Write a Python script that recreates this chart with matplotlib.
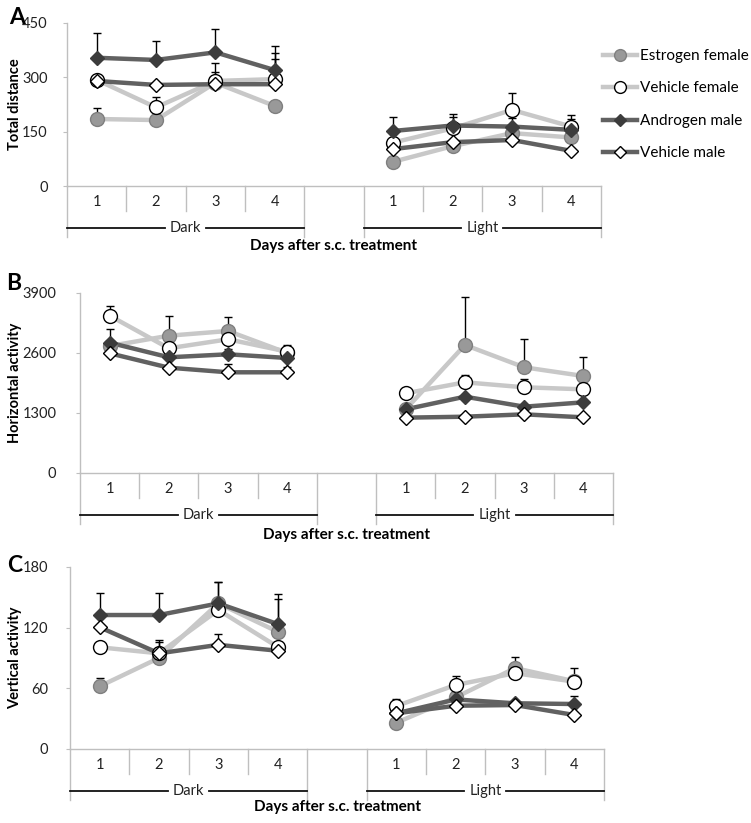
import numpy as np
import matplotlib
matplotlib.use("Agg")
import matplotlib.pyplot as plt
import matplotlib.transforms as mtransforms

nan = np.nan
plt.rcParams['font.family'] = ['Lato', 'DejaVu Sans']

# ---------------- data ----------------
day_labels = ["1", "2", "3", "4"]
groups = ["Dark", "Light"]
series_names = ["Estrogen female", "Vehicle female", "Androgen male", "Vehicle male"]

# order: Dark 1-4, Light 1-4
A_ef = [185, 182, 285, 221, 67, 110, 146, 134]
A_ef_top = [215, nan, 340, nan, nan, nan, nan, nan]
A_vf = [293, 217, 290, 295, 120, 159, 210, 164]
A_vf_top = [nan, 247, 316, 366, nan, 190, 256, 196]
A_am = [354, 348, 369, 320, 152, 167, 164, 155]
A_am_top = [423, 401, 433, 386, 190, 199, 187, 186]
A_vm = [290, 279, 281, 281, 102, 121, 127, 97]
A_vm_top = [nan, nan, nan, 351, nan, nan, nan, nan]

B_ef = [2750, 2975, 3077, 2600, 1380, 2774, 2290, 2102]
B_ef_top = [nan, 3402, 3373, nan, nan, 3807, 2897, 2520]
B_vf = [3409, 2702, 2897, 2629, 1727, 1965, 1857, 1813]
B_vf_top = [3619, nan, nan, 2774, nan, 2124, 2030, nan]
B_am = [2824, 2507, 2572, 2492, 1380, 1654, 1437, 1531]
B_am_top = [3113, nan, 2694, nan, nan, nan, nan, nan]
B_vm = [2594, 2282, 2182, 2182, 1199, 1220, 1271, 1206]
B_vm_top = [nan, nan, 2355, 2304, nan, nan, nan, nan]

C_ef = [62, 90, 144, 116, 26, 51, 80, 67]
C_ef_top = [70.5, nan, nan, 153, nan, nan, nan, nan]
C_vf = [100.6, 94.6, 137.5, 101, 42.5, 63.3, 75, 66.6]
C_vf_top = [nan, 107.8, 165, nan, 49.5, 72.5, 91.3, 80.4]
C_am = [132.5, 132.5, 144, 123.6, 35.3, 49, 45.2, 44.5]
C_am_top = [154.6, 154.6, 165, 148, nan, nan, nan, 52]
C_vm = [120.4, 94.6, 103, 97.2, 35.3, 42.8, 43.5, 33.6]
C_vm_top = [nan, 106, 113.7, nan, nan, nan, nan, nan]

# ---------------- styles ----------------
LIGHT = "#c8c8c8"
DARK = "#616161"
styles = [
    dict(color=LIGHT, marker='o', ms=10, mfc="#999999", mec="#7f7f7f", mew=1.0),
    dict(color=LIGHT, marker='o', ms=10, mfc="white", mec="black", mew=1.0),
    dict(color=DARK, marker='D', ms=7, mfc="#3c3c3c", mec="#3c3c3c", mew=1.0),
    dict(color=DARK, marker='D', ms=7.5, mfc="white", mec="black", mew=1.0),
]

W, H = 751, 823
fig = plt.figure(figsize=(W / 100, H / 100), dpi=100)

xpos = np.array([0, 1, 2, 3, 5, 6, 7, 8], dtype=float)
GRID = "#bfbfbf"


def panel(letter, letter_xy, xl, xr, y0, yt, ymax, yticks, ylabel, data, tops, pad, xlab_dy,
          legend=False):
    ax = fig.add_axes([xl / W, 1 - y0 / H, (xr - xl) / W, (y0 - yt) / H])
    ax.set_xlim(-0.5, 8.5)
    ax.set_ylim(0, ymax)
    ax.patch.set_alpha(0)
    for s in ("top", "right"):
        ax.spines[s].set_visible(False)
    for s in ("left", "bottom"):
        ax.spines[s].set_color(GRID)
        ax.spines[s].set_linewidth(1.0)
    ax.set_xticks([])
    ax.set_yticks(yticks)
    ax.set_yticklabels([str(t) for t in yticks], fontsize=10.5, color="#222222")
    ax.tick_params(axis='y', length=3, color=GRID, pad=pad)

    handles = []
    for vals, top, st, name in zip(data, tops, styles, series_names):
        v = np.array(vals, dtype=float)
        yv = np.insert(v, 4, nan)
        xv = np.insert(xpos, 4, 4)
        ax.plot(xv, yv, linestyle='-', lw=3.2, color=st['color'], marker='None',
                zorder=2, solid_capstyle='butt')
        t = np.array(top, dtype=float)
        err = t - v
        m = ~np.isnan(err)
        if m.any():
            ax.errorbar(xpos[m], v[m], yerr=[np.zeros(m.sum()), err[m]], fmt='none',
                        ecolor='black', elinewidth=1.0, capsize=2.8, capthick=1.0, zorder=3)
        ax.plot(xpos, v, linestyle='None', marker=st['marker'], ms=st['ms'], mfc=st['mfc'],
                mec=st['mec'], mew=st['mew'], zorder=4, clip_on=False)
        h, = ax.plot([], [], linestyle='-', lw=3.2, color=st['color'], marker=st['marker'],
                     ms=st['ms'] * 0.85, mfc=st['mfc'], mec=st['mec'], mew=st['mew'])
        handles.append(h)

    hpx = y0 - yt
    fr = lambda d: -d / hpx
    tr = mtransforms.blended_transform_factory(ax.transData, ax.transAxes)
    # category table
    bounds = np.arange(-0.5, 9.0, 1.0)
    for b in bounds:
        deep = b in (-0.5, 3.5, 4.5, 8.5)
        ax.plot([b, b], [0, fr(51 if deep else 25)], color=GRID, lw=1.0, transform=tr,
                clip_on=False)
    for x, lab in zip(xpos, day_labels * 2):
        ax.text(x, fr(16), lab, transform=tr, ha='center', va='center', fontsize=10.5,
                color="#222222")
    fig.canvas.draw()
    inv = ax.transData.inverted()
    r = fig.canvas.get_renderer()
    for (gx0, gx1), g in zip([(-0.5, 3.5), (4.5, 8.5)], groups):
        cx = (gx0 + gx1) / 2
        t = ax.text(cx, fr(42), g, transform=tr, ha='center', va='center', fontsize=10.5,
                    color="#222222")
        bb = t.get_window_extent(r)
        xa = inv.transform((bb.x0 - 5, 0))[0]
        xb = inv.transform((bb.x1 + 5, 0))[0]
        ax.plot([gx0, xa], [fr(42), fr(42)], color="#111111", lw=1.3, transform=tr, clip_on=False)
        ax.plot([xb, gx1], [fr(42), fr(42)], color="#111111", lw=1.3, transform=tr, clip_on=False)

    fig.text(((xl + xr) / 2) / W, 1 - (y0 + xlab_dy) / H, "Days after s.c. treatment",
             ha='center', va='center', fontsize=11, fontweight='bold')
    fig.text(15 / W, 1 - ((y0 + yt) / 2) / H, ylabel, rotation=90, ha='center', va='center',
             fontsize=10.5, fontweight='bold')
    fig.text(letter_xy[0] / W, 1 - letter_xy[1] / H, letter, ha='center', va='center',
             fontsize=16.5, fontweight='bold')
    if legend:
        ax.legend(handles, series_names, loc='upper left', frameon=False,
                  bbox_to_anchor=(603 / W, 1 - 49 / H), bbox_transform=fig.transFigure,
                  fontsize=11, handlelength=2.25, handletextpad=0.2, labelspacing=1.21,
                  borderpad=0, borderaxespad=0)
    return ax


panel("A", (17, 18), 67, 601, 186, 23, 450, [0, 150, 300, 450], "Total distance",
      [A_ef, A_vf, A_am, A_vm], [A_ef_top, A_vf_top, A_am_top, A_vm_top], 11, 60, legend=True)
panel("B", (14, 283), 80, 613, 473, 293, 3900, [0, 1300, 2600, 3900], "Horizontal activity",
      [B_ef, B_vf, B_am, B_vm], [B_ef_top, B_vf_top, B_am_top, B_vm_top], 14, 62)
panel("C", (15, 566), 70, 604, 749, 567, 180, [0, 60, 120, 180], "Vertical activity",
      [C_ef, C_vf, C_am, C_vm], [C_ef_top, C_vf_top, C_am_top, C_vm_top], 13, 58)

fig.savefig("out.png", dpi=100)
